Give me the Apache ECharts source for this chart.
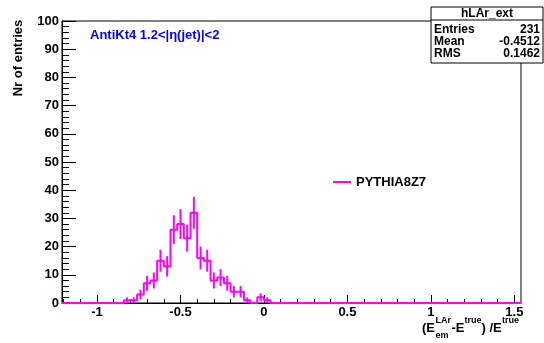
<!DOCTYPE html>
<html><head><meta charset="utf-8">
<script src="https://cdn.jsdelivr.net/npm/echarts@6/dist/echarts.min.js"></script>
<style>html,body{margin:0;padding:0;background:#fff}#c{width:544px;height:343px}</style>
</head><body><div id="c"></div>
<script>
// ---- data ----
const binLowEdges = [-0.84,-0.80,-0.76,-0.72,-0.68,-0.64,-0.60,-0.56,-0.52,-0.48,-0.44,-0.40,-0.36,-0.32,-0.28,-0.24,-0.20,-0.16,-0.12,-0.08,-0.04,0.00];
const binCounts   = [1,1,3,7,8,15,13,26,28,23,32,16,15,8,9,7,4,4,1,0,2,1];
const binWidth = 0.04;
const xMajorTicks = [-1,-0.5,0,0.5,1,1.5];
const xMinorTicks = [-1.2,-1.1,-1.0,-0.9,-0.8,-0.7,-0.6,-0.5,-0.4,-0.3,-0.2,-0.1,0,0.1,0.2,0.3,0.4,0.5,0.6,0.7,0.8,0.9,1.0,1.1,1.2,1.3,1.4,1.5];
const histName = 'PYTHIA8Z7';
const statsTitle = 'hLAr_ext';
const statsRows = [['Entries','231'],['Mean','-0.4512'],['RMS','0.1462']];
const yTitle = 'Nr of entries';
const infoText = 'AntiKt4 1.2<|\u03b7(jet)|<2';

const X_MIN = -1.21, X_MAX = 1.54;
const FONT = '"Liberation Sans", Arial, Helvetica, sans-serif';
const MAG = '#ff00ff';

// step outline
const stepData = [[binLowEdges[0], 0]];
binLowEdges.forEach((lo, i) => { stepData.push([lo, binCounts[i]], [lo + binWidth, binCounts[i]]); });
stepData.push([binLowEdges[binLowEdges.length-1] + binWidth, 0]);
const fullData = [[X_MIN, 0]].concat(stepData).concat([[X_MAX, 0]]);
const errData = binLowEdges.map((lo, i) => [lo + binWidth/2, binCounts[i], Math.sqrt(binCounts[i])]);

const chart = echarts.init(document.getElementById('c'), null, {renderer:'canvas'});
const txt = (text, x, y, size, opts) => Object.assign({type:'text', x, y, z:100,
  style: Object.assign({text, font:'bold '+size+'px '+FONT, fill:'#000', verticalAlign:'middle', align:'left'}, (opts||{}))});

const graphics = [
  txt(yTitle, 18, 58, 13, {align:'center'}),
  txt(infoText, 90, 35, 13, {fill:'#0000ff'}),
  // stats box
  {type:'rect', z:100, shape:{x:431, y:7, width:112, height:56}, style:{fill:'#fff', stroke:'#000', lineWidth:1}},
  {type:'line', z:101, shape:{x1:431, y1:20, x2:543, y2:20}, style:{stroke:'#000', lineWidth:1}},
  txt(statsTitle, 487, 13.5, 12, {align:'center'}),
  // legend
  {type:'line', z:100, shape:{x1:333, y1:182, x2:351, y2:182}, style:{stroke:MAG, lineWidth:2}},
  txt(histName, 356, 182, 13),
  // x title
  txt('(E', 422, 328, 13),
  txt('LAr', 435.5, 320.5, 9),
  txt('em', 435.5, 336, 9),
  txt('-E', 451.5, 328, 13),
  txt('true', 464.5, 320.5, 9),
  txt(') /E', 481.5, 328, 13),
  txt('true', 502, 320.5, 9)
];
graphics[0].rotation = Math.PI/2;
statsRows.forEach((r, i) => {
  graphics.push(txt(r[0], 434, 29.5 + i*12, 12));
  graphics.push(txt(r[1], 540, 29.5 + i*12, 12, {align:'right'}));
});

const labelStyle = {color:'#000', fontWeight:'bold', fontSize:13, fontFamily:FONT};
chart.setOption({
  animation:false,
  backgroundColor:'#fff',
  grid:{left:62, right:23, top:21, bottom:40, show:true, borderColor:'#000', borderWidth:1, backgroundColor:'transparent'},
  xAxis:[
    {type:'value', min:X_MIN, max:X_MAX, position:'bottom',
     axisLine:{show:true, onZero:false, lineStyle:{color:'#000', width:1}},
     axisTick:{show:true, inside:true, length:8, customValues:xMajorTicks, lineStyle:{color:'#000'}},
     axisLabel:Object.assign({show:true, margin:3, customValues:xMajorTicks, formatter:v=>String(v)}, labelStyle),
     splitLine:{show:false}},
    {type:'value', min:X_MIN, max:X_MAX, position:'bottom', offset:0,
     axisLine:{show:false, onZero:false},
     axisTick:{show:true, inside:true, length:4, customValues:xMinorTicks, lineStyle:{color:'#000'}},
     axisLabel:{show:false}, splitLine:{show:false}}
  ],
  yAxis:{type:'value', min:0, max:100, interval:10, position:'left',
     axisLine:{show:true, onZero:false, lineStyle:{color:'#000', width:1}},
     axisTick:{show:true, inside:true, length:14, lineStyle:{color:'#000'}},
     minorTick:{show:true, splitNumber:5, length:7, lineStyle:{color:'#000'}},
     axisLabel:Object.assign({margin:3}, labelStyle),
     splitLine:{show:false}},
  graphic:graphics,
  series:[
    {type:'line', xAxisIndex:0, yAxisIndex:0, data:fullData, showSymbol:false, clip:false,
     lineStyle:{color:MAG, width:2}, itemStyle:{color:MAG}, z:5},
    {type:'custom', xAxisIndex:0, yAxisIndex:0, data:errData, encode:{x:0, y:1}, clip:false, z:6,
     renderItem:(params, api) => {
       const x = api.value(0), c = api.value(1), e = api.value(2);
       if (!(c > 0)) return null;
       const p1 = api.coord([x, c - e]), p2 = api.coord([x, c + e]);
       return {type:'line', shape:{x1:p1[0], y1:p1[1], x2:p2[0], y2:p2[1]}, style:{stroke:MAG, lineWidth:2}};
     }}
  ]
});
</script></body></html>
